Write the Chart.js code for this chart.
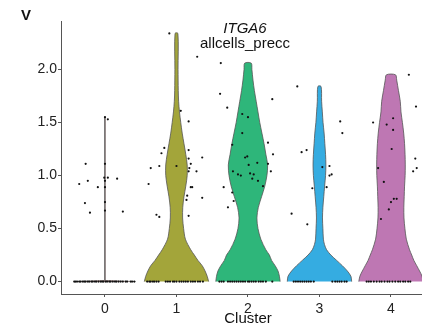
<!doctype html>
<html>
    <head>
        <meta charset="utf-8">
        <script src="https://cdn.jsdelivr.net/npm/chart.js"></script>
        <style>
            body {
                margin: 0px;
                background-color: white;
            }
        </style>
    </head>
    <body>

        <canvas id="violin" width="422" height="325"></canvas>

        <script>
            // ---- data ----
            const clusters = ['0', '1', '2', '3', '4'];
            const yTicks = [0, 0.5, 1, 1.5, 2];
            const geneName = 'ITGA6';
            const groupName = 'allcells_precc';
            const xTitle = 'Cluster';

            // violin outlines: expression level and half width (in cluster units)
            const lev0 = [0, 0.01, 1.55];
            const wid0 = [0.43, 0.005, 0.005];
            const lev1 = [0, 0.05, 0.1, 0.15, 0.2, 0.25, 0.3, 0.4, 0.5, 0.6, 0.7, 0.8, 0.9, 1.0, 1.1, 1.2, 1.3, 1.4, 1.5, 1.6, 1.7, 1.8, 2.0, 2.34];
            const wid1 = [0.45, 0.43, 0.40, 0.36, 0.30, 0.25, 0.20, 0.125, 0.10, 0.086, 0.088, 0.105, 0.13, 0.15, 0.15, 0.13, 0.105, 0.08, 0.06, 0.042, 0.03, 0.025, 0.022, 0.02];
            const lev2 = [0, 0.05, 0.1, 0.15, 0.2, 0.25, 0.3, 0.4, 0.5, 0.6, 0.7, 0.8, 0.9, 1.0, 1.1, 1.2, 1.3, 1.4, 1.5, 1.6, 1.7, 1.8, 1.9, 2.0, 2.06];
            const wid2 = [0.45, 0.44, 0.42, 0.38, 0.33, 0.30, 0.25, 0.18, 0.14, 0.125, 0.145, 0.19, 0.235, 0.265, 0.275, 0.25, 0.225, 0.195, 0.165, 0.14, 0.115, 0.09, 0.07, 0.055, 0.045];
            const lev3 = [0, 0.05, 0.1, 0.15, 0.2, 0.25, 0.3, 0.35, 0.4, 0.5, 0.6, 0.7, 0.8, 0.9, 1.0, 1.1, 1.2, 1.3, 1.4, 1.5, 1.6, 1.7, 1.84];
            const wid3 = [0.45, 0.44, 0.39, 0.32, 0.24, 0.16, 0.10, 0.07, 0.055, 0.048, 0.042, 0.048, 0.06, 0.072, 0.085, 0.09, 0.085, 0.075, 0.065, 0.05, 0.04, 0.03, 0.022];
            const lev4 = [0, 0.05, 0.1, 0.15, 0.2, 0.25, 0.3, 0.4, 0.5, 0.6, 0.7, 0.8, 0.9, 1.0, 1.1, 1.2, 1.3, 1.4, 1.5, 1.6, 1.7, 1.8, 1.9, 1.95];
            const wid4 = [0.45, 0.435, 0.40, 0.36, 0.32, 0.29, 0.26, 0.215, 0.195, 0.182, 0.18, 0.185, 0.19, 0.198, 0.20, 0.197, 0.19, 0.178, 0.16, 0.14, 0.13, 0.105, 0.08, 0.063];

            // cells: expression value and jitter offset
            const val0 = [1.55, 1.53, 1.11, 0.95, 0.92, 0.89, 0.98, 0.97, 0.74, 0.65, 0.66, 1.11, 0.98, 0.95, 0.89, 0.75, 0.67];
            const off0 = [0.0, 0.04, -0.27, -0.24, -0.36, -0.10, 0.04, 0.17, -0.28, -0.21, 0.25, 0.0, -0.01, 0.0, 0.0, 0.0, 0.0];
            const val1 = [2.34, 2.12, 1.61, 1.51, 1.26, 1.21, 1.24, 1.17, 1.16, 1.11, 1.09, 1.09, 1.07, 1.07, 1.04, 1.04, 0.92, 0.89, 0.89, 0.81, 0.79, 0.77, 0.63, 0.61, 0.62];
            const off1 = [-0.10, 0.29, 0.06, 0.17, -0.17, -0.21, 0.17, 0.36, 0.17, 0.20, -0.24, 0.0, 0.18, -0.36, 0.28, 0.17, -0.39, 0.22, 0.20, 0.15, 0.36, 0.14, -0.28, -0.24, 0.17];
            const val2 = [2.06, 1.77, 1.64, 1.72, 1.58, 1.55, 1.40, 1.29, 1.31, 1.20, 1.17, 1.18, 1.12, 1.11, 1.10, 1.04, 1.01, 1.00, 1.02, 1.01, 0.97, 0.95, 1.04, 0.90, 0.89, 0.84, 0.76, 0.70];
            const off2 = [-0.38, -0.39, -0.29, 0.34, -0.08, 0.0, -0.08, -0.22, 0.28, 0.35, -0.04, -0.01, 0.13, 0.28, 0.01, -0.21, -0.14, -0.10, 0.03, 0.08, 0.06, 0.14, 0.32, 0.21, -0.34, -0.22, -0.20, -0.28];
            const val3 = [1.84, 1.51, 1.40, 1.22, 1.24, 1.08, 1.09, 1.00, 1.01, 0.88, 0.89, 0.64, 0.54];
            const off3 = [-0.31, 0.29, 0.32, -0.25, -0.18, 0.04, 0.14, 0.14, 0.17, -0.10, 0.10, -0.39, -0.17];
            const val4 = [1.95, 1.65, 1.50, 1.54, 1.48, 1.43, 1.25, 1.16, 1.07, 0.94, 1.04, 1.07, 0.78, 0.78, 0.75, 0.68, 0.59];
            const off4 = [0.25, 0.35, -0.25, 0.03, -0.06, 0.03, 0.01, 0.34, -0.18, -0.10, 0.31, 0.36, 0.04, 0.08, 0.0, -0.03, -0.14];

            // cells with zero expression: jitter offsets only
            const zero0 = [-0.43, -0.41, -0.39, -0.36, -0.34, -0.31, -0.29, -0.27, -0.24, -0.22, -0.19, -0.17, -0.14, -0.12, -0.09, -0.06, -0.04, -0.02, 0.01, 0.03, 0.06, 0.08, 0.11, 0.14, 0.16, 0.19, 0.22, 0.25, 0.29, 0.31, 0.36, 0.38, 0.41];
            const zero1 = [-0.41, -0.38, -0.36, -0.33, -0.31, -0.28, -0.25, -0.15, -0.12, -0.09, -0.05, -0.03, 0.0, 0.04, 0.07, 0.1, 0.13, 0.16, 0.2, 0.23, 0.26, 0.3, 0.33, 0.37];
            const zero2 = [-0.4, -0.37, -0.34, -0.28, -0.25, -0.22, -0.19, -0.16, -0.13, -0.1, -0.07, -0.04, 0.0, 0.02, 0.05, 0.08, 0.11, 0.15, 0.18, 0.21, 0.25, 0.34];
            const zero3 = [-0.36, -0.33, -0.3, -0.27, -0.24, -0.21, -0.18, -0.15, -0.12, -0.08, 0.18, 0.22, 0.25, 0.28, 0.31, 0.35, 0.38];
            const zero4 = [-0.34, -0.31, -0.28, -0.24, -0.2, -0.16, -0.13, -0.09, -0.05, -0.02, 0.02, 0.06, 0.1, 0.13, 0.17, 0.2, 0.24, 0.27];

            // ---- styling ----
            const fills = ['#F8766D', '#A3A53A', '#2EB67A', '#35ACE1', '#BE77B3'];
            const font = '"Liberation Sans", Arial, sans-serif';

            const levels = [lev0, lev1, lev2, lev3, lev4];
            const widths = [wid0, wid1, wid2, wid3, wid4];
            const values = [val0, val1, val2, val3, val4];
            const offsets = [off0, off1, off2, off3, off4];
            const zeros = [zero0, zero1, zero2, zero3, zero4];

            // closed outline: up the right side, down the left side
            function outline(ci) {
                const lev = levels[ci], wid = widths[ci];
                const right = lev.map((v, i) => ({x: ci + wid[i], y: v}));
                const left = lev.map((v, i) => ({x: ci - wid[i], y: v})).reverse();
                return right.concat(left);
            }

            const cells = [];
            clusters.forEach((c, ci) => {
                zeros[ci].forEach(o => cells.push({x: ci + o, y: 0}));
                values[ci].forEach((v, i) => cells.push({x: ci + offsets[ci][i], y: v}));
            });

            const datasets = clusters.map((c, ci) => ({
                type: 'line',
                data: outline(ci),
                fill: 'shape',
                backgroundColor: fills[ci],
                borderColor: ci == 0 ? '#777' : '#555',
                borderWidth: 0.8,
                pointRadius: 0,
                tension: ci == 0 ? 0 : 0.3,
                order: 1
            }));

            datasets.push({
                type: 'scatter',
                data: cells,
                pointRadius: 1.1,
                pointBackgroundColor: '#111',
                pointBorderWidth: 0,
                order: 0
            });

            // title lines, panel letter and x title, centred on the middle cluster
            const panelText = {
                id: 'panelText',
                afterDraw(chart) {
                    const ctx = chart.ctx;
                    const cx = chart.scales.x.getPixelForValue(2);
                    ctx.save();
                    ctx.fillStyle = '#111';
                    ctx.textBaseline = 'alphabetic';
                    ctx.textAlign = 'center';
                    ctx.font = 'italic 15px ' + font;
                    ctx.fillText(geneName, cx - 3, 33);
                    ctx.font = '15px ' + font;
                    ctx.fillText(groupName, cx - 3, 48);
                    ctx.fillText(xTitle, cx, 323);
                    ctx.textAlign = 'left';
                    ctx.font = 'bold 15px ' + font;
                    ctx.fillText('V', 21, 20);
                    ctx.restore();
                }
            };

            new Chart(document.getElementById('violin'), {
                type: 'line',
                data: {datasets: datasets},
                plugins: [panelText],
                options: {
                    responsive: false,
                    animation: false,
                    devicePixelRatio: 1,
                    layout: {autoPadding: false, padding: {top: 21, right: 0, bottom: 0, left: 0}},
                    plugins: {
                        legend: {display: false},
                        tooltip: {enabled: false}
                    },
                    scales: {
                        x: {
                            type: 'linear',
                            min: -0.615,
                            max: 4.434,
                            afterBuildTicks: s => { s.ticks = clusters.map((c, i) => ({value: i})); },
                            afterFit: s => { s.height = 31; s.paddingLeft = 0; s.paddingRight = 0; },
                            ticks: {
                                callback: v => clusters[v],
                                color: '#222',
                                font: {family: font, size: 14},
                                padding: 4,
                                maxRotation: 0,
                                autoSkip: false
                            },
                            grid: {display: true, drawOnChartArea: false, drawTicks: true, tickLength: 3, color: '#555'},
                            border: {display: true, color: '#555', width: 1}
                        },
                        y: {
                            type: 'linear',
                            min: -0.117,
                            max: 2.457,
                            afterBuildTicks: s => { s.ticks = yTicks.map(v => ({value: v})); },
                            afterFit: s => { s.width = 61; s.paddingTop = 0; s.paddingBottom = 0; },
                            ticks: {
                                callback: v => v.toFixed(1),
                                color: '#222',
                                font: {family: font, size: 14},
                                padding: 1
                            },
                            grid: {display: true, drawOnChartArea: false, drawTicks: true, tickLength: 3, color: '#555'},
                            border: {display: true, color: '#555', width: 1}
                        }
                    }
                }
            });
        </script>

    </body>
</html>
